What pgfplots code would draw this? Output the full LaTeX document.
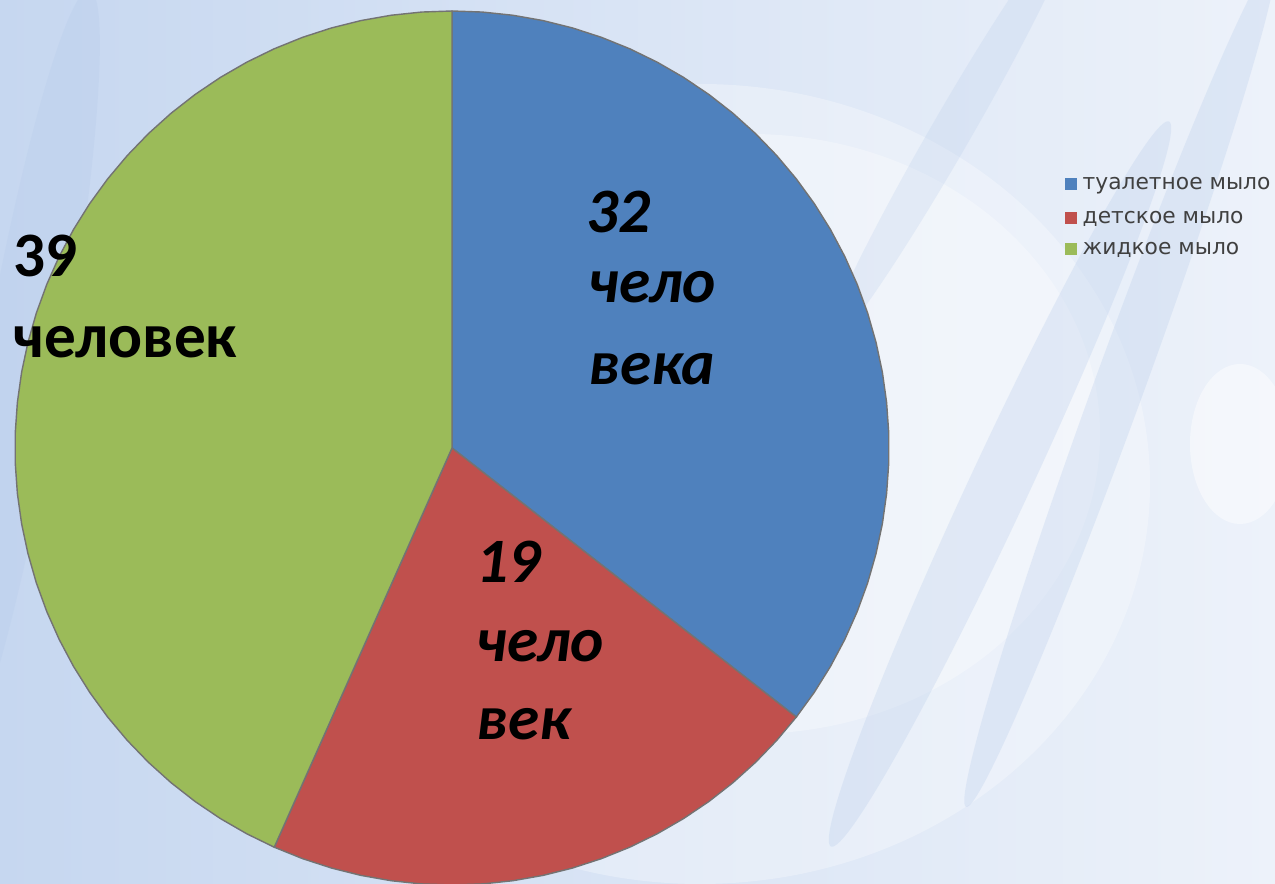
\documentclass[border=0pt]{standalone}
\usepackage{pgfplots}
\pgfplotsset{compat=1.18}
\usepgfplotslibrary{polar}
\usepackage{fontspec}
\setmainfont{Carlito}
\newfontfamily\legfont{DejaVu Sans}
\definecolor{sblue}{HTML}{4F81BD}
\definecolor{sred}{HTML}{C0504D}
\definecolor{sgreen}{HTML}{9BBB59}
\definecolor{bgA}{HTML}{C6D7F0}
\definecolor{bgB}{HTML}{EDF2FA}
\definecolor{streak}{HTML}{B9CDEB}
\begin{document}
\begin{tikzpicture}
\clip (0,0) rectangle (127.5mm,88.4mm);
% background
\shade[left color=bgA, right color=bgB] (0,0) rectangle (127.5mm,88.4mm);
\fill[white, opacity=0.3] (70mm,40mm) ellipse (45mm and 40mm);
\fill[white, opacity=0.3] (75mm,45mm) ellipse (35mm and 30mm);
\fill[streak, opacity=0.3, rotate around={65:(100mm,40mm)}] (100mm,40mm) ellipse (40mm and 3mm);
\fill[streak, opacity=0.3, rotate around={70:(112mm,50mm)}] (112mm,50mm) ellipse (45mm and 2.5mm);
\fill[streak, opacity=0.25, rotate around={60:(95mm,75mm)}] (95mm,75mm) ellipse (25mm and 2mm);
\fill[streak, opacity=0.35, rotate around={80:(2mm,50mm)}] (2mm,50mm) ellipse (40mm and 4mm);
\fill[white, opacity=0.45] (124mm,44mm) ellipse (5mm and 8mm);
% pie: 90 persons, 4 degrees per person, clockwise from 12 o'clock
\begin{polaraxis}[
  hide axis, scale only axis, width=87.4mm, height=87.4mm,
  ymin=0, ymax=1, clip=false,
  at={(45.2mm,43.6mm)}, anchor=origin]
% туалетное мыло: 32
\addplot[fill=sblue, draw=black!55, line width=0.4pt, mark=none] coordinates {
(0,0) (90,1) (86,1) (82,1) (78,1) (74,1) (70,1) (66,1) (62,1) (58,1) (54,1) (50,1)
(46,1) (42,1) (38,1) (34,1) (30,1) (26,1) (22,1) (18,1) (14,1) (10,1) (6,1) (2,1)
(-2,1) (-6,1) (-10,1) (-14,1) (-18,1) (-22,1) (-26,1) (-30,1) (-34,1) (-38,1)} -- cycle;
% детское мыло: 19
\addplot[fill=sred, draw=black!55, line width=0.4pt, mark=none] coordinates {
(0,0) (-38,1) (-42,1) (-46,1) (-50,1) (-54,1) (-58,1) (-62,1) (-66,1) (-70,1) (-74,1)
(-78,1) (-82,1) (-86,1) (-90,1) (-94,1) (-98,1) (-102,1) (-106,1) (-110,1) (-114,1)} -- cycle;
% жидкое мыло: 39
\addplot[fill=sgreen, draw=black!55, line width=0.4pt, mark=none] coordinates {
(0,0) (-114,1) (-118,1) (-122,1) (-126,1) (-130,1) (-134,1) (-138,1) (-142,1) (-146,1)
(-150,1) (-154,1) (-158,1) (-162,1) (-166,1) (-170,1) (-174,1) (-178,1) (-182,1)
(-186,1) (-190,1) (-194,1) (-198,1) (-202,1) (-206,1) (-210,1) (-214,1) (-218,1)
(-222,1) (-226,1) (-230,1) (-234,1) (-238,1) (-242,1) (-246,1) (-250,1) (-254,1)
(-258,1) (-262,1) (-266,1) (-270,1)} -- cycle;
\end{polaraxis}
% slice labels
\begin{scope}[every node/.style={inner sep=0pt, anchor=base west, font=\fontsize{18}{21}\selectfont\bfseries\itshape}]
\node at (58.6mm,65.1mm) {32};
\node at (58.8mm,58.1mm) {чело};
\node at (58.8mm,49.9mm) {века};
\node at (47.6mm,30.1mm) {19};
\node at (47.6mm,22.2mm) {чело};
\node at (47.6mm,14.4mm) {век};
\end{scope}
\begin{scope}[every node/.style={inner sep=0pt, anchor=base west, font=\fontsize{18}{21}\selectfont\bfseries}]
\node at (1.3mm,60.7mm) {39};
\node at (1.3mm,52.6mm) {человек};
\end{scope}
% legend
\begin{scope}[every node/.style={inner sep=0pt, anchor=base west, text=black!75, font=\legfont\fontsize{6.2}{7}\selectfont}]
\fill[sblue] (106.5mm,69.4mm) rectangle ++(1.2mm,1.2mm);
\node at (108.2mm,69.4mm) {туалетное мыло};
\fill[sred] (106.5mm,66.0mm) rectangle ++(1.2mm,1.2mm);
\node at (108.2mm,66.0mm) {детское мыло};
\fill[sgreen] (106.5mm,62.9mm) rectangle ++(1.2mm,1.2mm);
\node at (108.2mm,62.9mm) {жидкое мыло};
\end{scope}
\end{tikzpicture}
\end{document}
